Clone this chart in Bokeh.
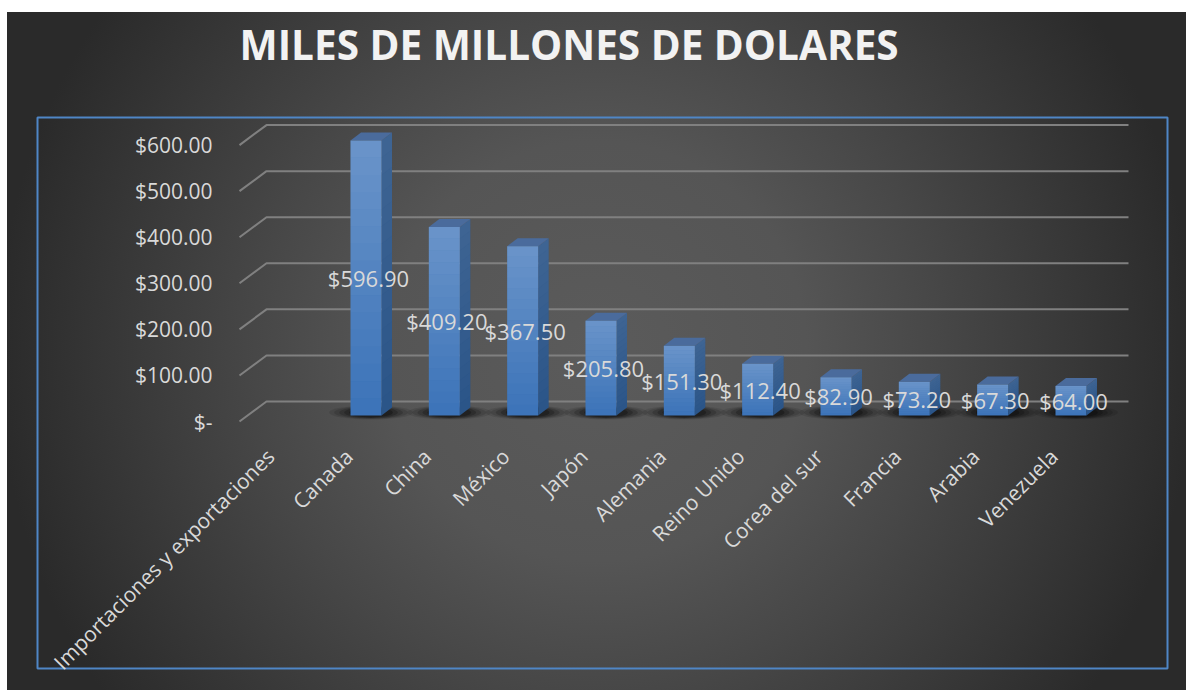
from bokeh.plotting import figure
from bokeh.models import Range1d, LinearAxis, FixedTicker, ColumnDataSource, Title
from bokeh.embed import file_html
from bokeh.resources import INLINE
from bokeh.core.properties import value
import math

TITLE = "MILES DE MILLONES DE DOLARES"
categories = ["Importaciones y exportaciones", "Canada", "China", "México", "Japón", "Alemania",
              "Reino Unido", "Corea del sur", "Francia", "Arabia", "Venezuela"]
bar_categories = categories[1:]
bar_values = [596.9, 409.2, 367.5, 205.8, 151.3, 112.4, 82.9, 73.2, 67.3, 64.0]
bar_labels = ["$596.90", "$409.20", "$367.50", "$205.80", "$151.30", "$112.40", "$82.90", "$73.20", "$67.30", "$64.00"]
y_ticks = [0, 100, 200, 300, 400, 500, 600]
y_tick_labels = ["$-", "$100.00", "$200.00", "$300.00", "$400.00", "$500.00", "$600.00"]

# layout in page pixels
CANVAS_X, CANVAS_Y = 7, 12
W, H = 1179, 678
F_L, F_R, F_T, F_B = 37, 1167, 117, 668   # blue plot-area box
PX_X = 78.33          # px per category
X1_PX = 365.5         # px of category 1
PX_V = 0.4607         # px per value unit
BASE_PX = 415         # px of value 0 at the bars
AXIS_BASE_PX = 421    # px of value 0 on the front edge
WALL_BASE_PX = 401    # px of value 0 on the back wall
FRONT_X_PX, WALL_X_PX, WALL_END_PX = 239, 266, 1128
YLABEL_X_PX, XLABEL_Y_PX = 212, 452

def x_at(px):
    return 1 + (px - X1_PX) / PX_X
def v_at(px, base=BASE_PX):
    return (base - px) / PX_V

FONT = "Open Sans"
TXT = "#d9d9d9"

p = figure(width=W, height=H, output_backend="svg", toolbar_location=None,
           x_range=Range1d(x_at(F_L), x_at(F_R)), y_range=Range1d(v_at(F_B), v_at(F_T)),
           x_axis_location=None, y_axis_location=None,
           min_border_left=F_L - CANVAS_X, min_border_right=CANVAS_X + W - F_R,
           min_border_top=F_T - CANVAS_Y, min_border_bottom=CANVAS_Y + H - F_B)
p.margin = (CANVAS_Y, 0, 0, CANVAS_X)
p.styles = {"background": "radial-gradient(circle 600px at 50% 50%, #5b5b5b 0%, #555555 35%, #474747 57%, #2a2a2a 100%)"}
p.background_fill_alpha = 0
p.border_fill_alpha = 0
p.outline_line_color = "#4f86c6"
p.outline_line_alpha = 1
p.outline_line_width = 2
p.grid.visible = False
p.title = None

# axes with their own ranges
p.extra_y_ranges = {"front": Range1d(v_at(F_B, AXIS_BASE_PX), v_at(F_T, AXIS_BASE_PX))}
LAB_SHIFT = 0.22
p.extra_x_ranges = {"lab": Range1d(x_at(F_L) + LAB_SHIFT, x_at(F_R) + LAB_SHIFT)}

yax = LinearAxis(y_range_name="front", ticker=FixedTicker(ticks=y_ticks),
                 major_label_overrides=dict(zip(y_ticks, y_tick_labels)))
xax = LinearAxis(x_range_name="lab", ticker=FixedTicker(ticks=list(range(len(categories)))),
                 major_label_overrides=dict(enumerate(categories)),
                 major_label_orientation=math.pi / 4)
for ax, size in ((yax, "21px"), (xax, "21px")):
    ax.axis_line_alpha = 0
    ax.major_tick_line_alpha = 0
    ax.minor_tick_line_alpha = 0
    ax.major_tick_out = 0
    ax.major_tick_in = 0
    ax.minor_tick_out = 0
    ax.minor_tick_in = 0
    ax.major_label_text_color = TXT
    ax.major_label_text_font = FONT
    ax.major_label_text_font_size = size
yax.major_label_standoff = F_L - YLABEL_X_PX
xax.major_label_standoff = XLABEL_Y_PX - F_B
p.add_layout(yax, "left")
p.add_layout(xax, "below")

# a blank title panel holds the real title away from the plot box
p.add_layout(Title(text=" ", text_font=FONT, text_font_size="31px", standoff=0), "above")
p.add_layout(Title(text=TITLE, text_font=FONT, text_font_style="bold", text_font_size="40.5px",
                   text_color="#f2f2f2", align="left", offset=202, vertical_align="top", standoff=0),
             "above")

# gridlines: slanted floor edge + back wall
xf, xw, xr = x_at(FRONT_X_PX), x_at(WALL_X_PX), x_at(WALL_END_PX)
grid_xs, grid_ys = [], []
for t in y_ticks:
    v_front = t + v_at(AXIS_BASE_PX)
    v_wall = t + v_at(WALL_BASE_PX)
    grid_xs.append([xf, xw, xr])
    grid_ys.append([v_front, v_wall, v_wall])
p.multi_line(grid_xs, grid_ys, line_color="#808080", line_width=2)

# bars
HALF = 15.5 / PX_X
DX = 10.5 / PX_X
DY = 8 / PX_V
xs = [i + 1 for i in range(len(bar_values))]

# soft floor shadows
for scale, alpha in ((1.0, 0.10), (0.88, 0.12), (0.76, 0.16), (0.64, 0.20), (0.52, 0.26)):
    p.ellipse(x=[x + 5 / PX_X for x in xs], y=[3 / PX_V] * len(xs),
              width=84 / PX_X * scale, height=14 / PX_V * (0.4 + 0.6 * scale),
              fill_color="#000000", fill_alpha=alpha, line_alpha=0)

# side faces
p.patches([[x + HALF, x + HALF, x + HALF + DX, x + HALF + DX] for x in xs],
          [[0, v, v + DY, DY] for v in bar_values],
          fill_color="#2a5488", line_alpha=0)
# top faces
p.patches([[x - HALF, x + HALF, x + HALF + DX, x - HALF + DX] for x in xs],
          [[v, v, v + DY, v + DY] for v in bar_values],
          fill_color="#4a6b9c", line_alpha=0)
# front faces
p.vbar(x=xs, width=2 * HALF, bottom=0, top=bar_values, fill_color="#3a72b8", line_alpha=0)

# light falling from the top of each bar's faces
STEPS = 16
for k in range(STEPS):
    a = 0.24 * (1 - k / STEPS)
    lo = [v * (1 - (k + 1) / STEPS) for v in bar_values]
    hi = [v * (1 - k / STEPS) for v in bar_values]
    p.quad(left=[x - HALF for x in xs], right=[x + HALF for x in xs], bottom=lo, top=hi,
           fill_color="#ffffff", fill_alpha=a, line_alpha=0)
    p.patches([[x + HALF, x + HALF, x + HALF + DX, x + HALF + DX] for x in xs],
              [[l, h, h + DY, l + DY] for l, h in zip(lo, hi)],
              fill_color="#ffffff", fill_alpha=a * 0.4, line_alpha=0)

# data labels
src = ColumnDataSource(dict(x=[x + 2.5 / PX_X for x in xs], y=[v / 2 for v in bar_values], t=bar_labels))
p.text(x="x", y="y", text="t", source=src, text_align="center", text_baseline="middle",
       text_font=value(FONT), text_font_size="22px", text_color=TXT)

open("out.html", "w").write(file_html(p, INLINE))
